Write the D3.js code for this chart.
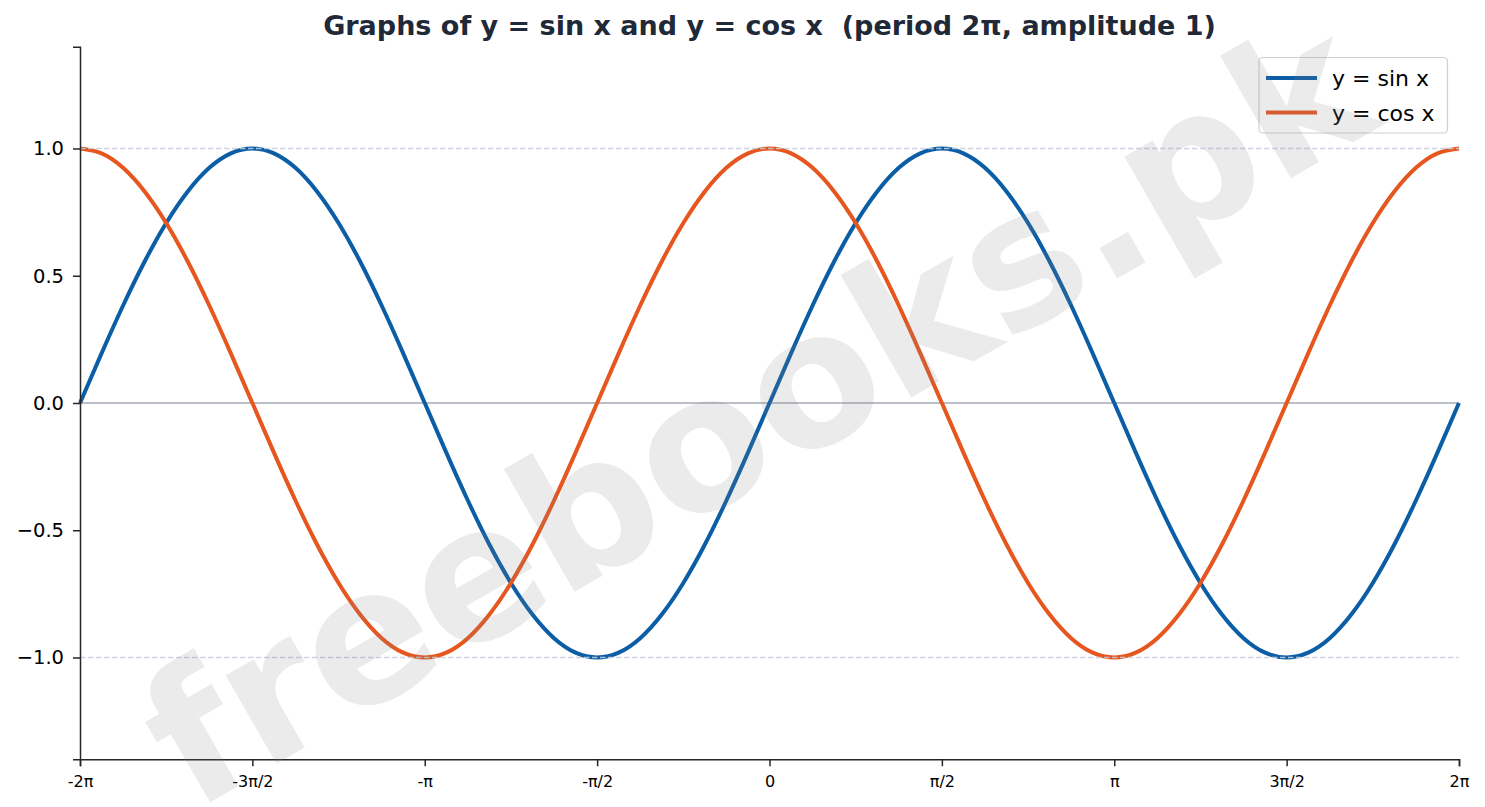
<!DOCTYPE html>
<html>
<head>
<meta charset="utf-8">
<script src="https://cdn.jsdelivr.net/npm/d3@7"></script>
<style>
  html, body { margin: 0; padding: 0; background: #ffffff; }
  svg { display: block; font-family: "DejaVu Sans", sans-serif; }
</style>
</head>
<body>
<svg id="chart" width="1485" height="807"></svg>
<script>
// x positions in multiples of π (step π/16)
const xPi = [-2, -1.9375, -1.875, -1.8125, -1.75, -1.6875, -1.625, -1.5625,
             -1.5, -1.4375, -1.375, -1.3125, -1.25, -1.1875, -1.125, -1.0625,
             -1, -0.9375, -0.875, -0.8125, -0.75, -0.6875, -0.625, -0.5625,
             -0.5, -0.4375, -0.375, -0.3125, -0.25, -0.1875, -0.125, -0.0625,
             0, 0.0625, 0.125, 0.1875, 0.25, 0.3125, 0.375, 0.4375,
             0.5, 0.5625, 0.625, 0.6875, 0.75, 0.8125, 0.875, 0.9375,
             1, 1.0625, 1.125, 1.1875, 1.25, 1.3125, 1.375, 1.4375,
             1.5, 1.5625, 1.625, 1.6875, 1.75, 1.8125, 1.875, 1.9375, 2];
// values
const sinValues = [0, 0.195, 0.383, 0.556, 0.707, 0.831, 0.924, 0.981,
                   1, 0.981, 0.924, 0.831, 0.707, 0.556, 0.383, 0.195,
                   0, -0.195, -0.383, -0.556, -0.707, -0.831, -0.924, -0.981,
                   -1, -0.981, -0.924, -0.831, -0.707, -0.556, -0.383, -0.195,
                   0, 0.195, 0.383, 0.556, 0.707, 0.831, 0.924, 0.981,
                   1, 0.981, 0.924, 0.831, 0.707, 0.556, 0.383, 0.195,
                   0, -0.195, -0.383, -0.556, -0.707, -0.831, -0.924, -0.981,
                   -1, -0.981, -0.924, -0.831, -0.707, -0.556, -0.383, -0.195, 0];
const cosValues = [1, 0.981, 0.924, 0.831, 0.707, 0.556, 0.383, 0.195,
                   0, -0.195, -0.383, -0.556, -0.707, -0.831, -0.924, -0.981,
                   -1, -0.981, -0.924, -0.831, -0.707, -0.556, -0.383, -0.195,
                   0, 0.195, 0.383, 0.556, 0.707, 0.831, 0.924, 0.981,
                   1, 0.981, 0.924, 0.831, 0.707, 0.556, 0.383, 0.195,
                   0, -0.195, -0.383, -0.556, -0.707, -0.831, -0.924, -0.981,
                   -1, -0.981, -0.924, -0.831, -0.707, -0.556, -0.383, -0.195,
                   0, 0.195, 0.383, 0.556, 0.707, 0.831, 0.924, 0.981, 1];
const xTickValues = [-2, -1.5, -1, -0.5, 0, 0.5, 1, 1.5, 2];
const xTickLabels = ["-2π", "-3π/2", "-π", "-π/2", "0", "π/2", "π", "3π/2", "2π"];
const yTickValues = [-1, -0.5, 0, 0.5, 1];
const seriesNames = ["y = sin x", "y = cos x"];
const seriesColors = ["#0b5ea6", "#e6561f"];
const titleText = "Graphs of y = sin x and y = cos x  (period 2π, amplitude 1)";
const watermarkText = "freebooks.pk";

(function () {
const svg = d3.select("#chart");
const pL = 80, pR = 1459, pT = 46.7, pB = 759.3;

const x = d3.scaleLinear().domain([-2, 2]).range([pL, pR]);
const y = d3.scaleLinear().domain([-1.4, 1.4]).range([pB, pT]);

// zero line
svg.append("line")
  .attr("x1", x(-2)).attr("x2", x(2))
  .attr("y1", y(0)).attr("y2", y(0))
  .attr("stroke", "#a3a9b3").attr("stroke-width", 1.5);

// curves
const line = d3.line()
  .x(d => x(d[0]))
  .y(d => y(d[1]))
  .curve(d3.curveNatural);

const series = [sinValues, cosValues];
series.forEach((vals, i) => {
  svg.append("path")
    .datum(xPi.map((xv, j) => [xv, vals[j]]))
    .attr("d", line)
    .attr("fill", "none")
    .attr("stroke", seriesColors[i])
    .attr("stroke-width", 4)
    .attr("stroke-linejoin", "round");
});

// dashed reference lines at ±1
[1, -1].forEach(v => {
  svg.append("line")
    .attr("x1", x(-2)).attr("x2", x(2))
    .attr("y1", y(v)).attr("y2", y(v))
    .attr("stroke", "#c5cfdd").attr("stroke-opacity", 0.85)
    .attr("stroke-width", 1.3)
    .attr("stroke-dasharray", "5.5,2.5");
});

// axes
const xAxis = d3.axisBottom(x)
  .tickValues(xTickValues)
  .tickFormat((d, i) => xTickLabels[i])
  .tickSizeOuter(0).tickSize(7).tickPadding(9);
const gx = svg.append("g")
  .attr("transform", `translate(0,${y(-1.4)})`)
  .call(xAxis);
gx.select(".domain").attr("stroke", "#262626").attr("stroke-width", 1.5);
gx.selectAll(".tick line").attr("stroke", "#262626").attr("stroke-width", 1.5);
gx.selectAll(".tick text").attr("font-size", 16).attr("fill", "#000")
  .attr("font-family", "DejaVu Sans");

const yAxis = d3.axisLeft(y)
  .tickValues(yTickValues)
  .tickFormat(d => d3.format(".1f")(d).replace("-", "−"))
  .tickSizeOuter(0).tickSize(7).tickPadding(9);
const gy = svg.append("g")
  .attr("transform", `translate(${x(-2)},0)`)
  .call(yAxis);
gy.select(".domain").attr("stroke", "#262626").attr("stroke-width", 1.5);
gy.selectAll(".tick line").attr("stroke", "#262626").attr("stroke-width", 1.5);
gy.selectAll(".tick text").attr("font-size", 19.5).attr("fill", "#000")
  .attr("font-family", "DejaVu Sans");

// title
svg.append("text")
  .attr("x", (pL + pR) / 2).attr("y", 35)
  .attr("text-anchor", "middle")
  .attr("font-size", 27).attr("font-weight", "bold")
  .attr("fill", "#1f2937")
  .style("white-space", "pre")
  .attr("xml:space", "preserve")
  .text(titleText);

// legend
const lg = svg.append("g");
lg.append("rect")
  .attr("x", 1259).attr("y", 57.5).attr("width", 188.5).attr("height", 75.5)
  .attr("rx", 4).attr("ry", 4)
  .attr("fill", "#ffffff").attr("fill-opacity", 0.8)
  .attr("stroke", "#d0d0d0").attr("stroke-width", 1.2);
seriesNames.forEach((name, i) => {
  const yy = 78 + i * 34.5;
  lg.append("line")
    .attr("x1", 1266).attr("x2", 1317)
    .attr("y1", yy).attr("y2", yy)
    .attr("stroke", seriesColors[i]).attr("stroke-width", 4);
  lg.append("text")
    .attr("x", 1332).attr("y", yy + 8)
    .attr("font-size", 22).attr("fill", "#000")
    .text(name);
});

// watermark (on top)
svg.append("g")
  .attr("transform", `translate(${(pL + pR) / 2},${(pT + pB) / 2}) rotate(-30)`)
  .append("text")
  .attr("x", -16).attr("y", 66)
  .attr("text-anchor", "middle")
  .attr("font-size", 186).attr("font-weight", "bold")
  .attr("fill", "#808080").attr("fill-opacity", 0.16)
  .text(watermarkText);
})();
</script>
</body>
</html>
